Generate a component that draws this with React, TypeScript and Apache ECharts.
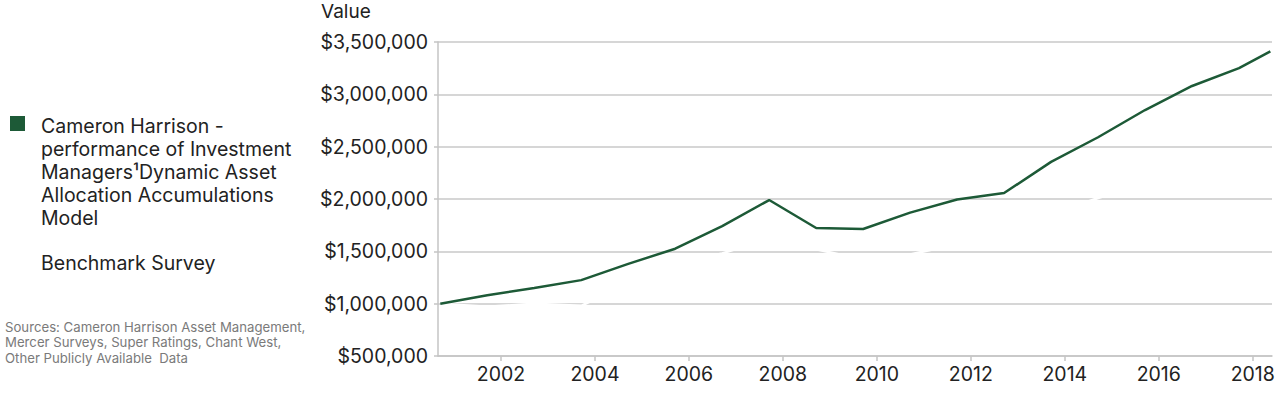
import React, { useEffect, useRef } from "react";
import * as echarts from "echarts";

const periods = [
  "2000-09", "2001-09", "2002-09", "2003-09", "2004-09", "2005-09", "2006-09",
  "2007-09", "2008-09", "2009-09", "2010-09", "2011-09", "2012-09", "2013-09",
  "2014-09", "2015-09", "2016-09", "2017-09", "2018-05",
];

const cameronHarrison = [
  1000000, 1080000, 1150000, 1225000, 1380000, 1525000, 1740000, 1990000,
  1723000, 1713000, 1870000, 1995000, 2057000, 2355000, 2590000, 2850000,
  3080000, 3250000, 3410000,
];

const benchmarkSurvey = [
  1000000, 970000, 1000000, 980000, 1200000, 1380000, 1480000, 1620000,
  1520000, 1420000, 1470000, 1570000, 1700000, 1850000, 2010000, 2150000,
  2250000, 2350000, 2420000,
];

const yearTicks = [2002, 2004, 2006, 2008, 2010, 2012, 2014, 2016, 2018];

const seriesNames = [
  "Cameron Harrison -\nperformance of Investment\nManagers\u00b9Dynamic Asset\nAllocation Accumulations\nModel",
  "Benchmark Survey",
];

const sourcesText =
  "Sources: Cameron Harrison Asset Management,\nMercer Surveys, Super Ratings, Chant West,\nOther Publicly Available  Data";

const GREEN = "#1d5a37";
const FONT = "Inter, Roboto, 'Noto Sans', sans-serif";

function toYear(p: string): number {
  const [y, m] = p.split("-").map(Number);
  return y + (m - 0.5) / 12;
}

export default function App() {
  const ref = useRef<HTMLDivElement>(null);

  useEffect(() => {
    document.body.style.margin = "0";
    if (!ref.current) return;
    const chart = echarts.init(ref.current, null, { renderer: "svg" });

    const chData = periods.map((p, i) => [toYear(p), cameronHarrison[i]]);
    const bmData = periods.map((p, i) => [toYear(p), benchmarkSurvey[i]]);

    chart.setOption({
      animation: false,
      backgroundColor: "#ffffff",
      textStyle: { fontFamily: FONT },
      grid: { left: 438, right: 8, top: 42, bottom: 37, containLabel: false },
      xAxis: {
        type: "value",
        min: 2000.66,
        max: 2018.41,
        splitLine: { show: false },
        axisLine: { show: true, lineStyle: { color: "#c4c4c4", width: 1.5 } },
        axisTick: {
          show: true,
          customValues: yearTicks,
          length: 5,
          lineStyle: { color: "#c4c4c4", width: 1.5 },
        },
        axisLabel: {
          customValues: yearTicks,
          formatter: (v: number) => String(Math.round(v)),
          fontSize: 19.5,
          color: "#222222",
          margin: 8,
          fontFamily: FONT,
        },
      },
      yAxis: {
        type: "value",
        min: 500000,
        max: 3500000,
        interval: 500000,
        axisLine: { show: true, lineStyle: { color: "#c4c4c4", width: 1.5 } },
        axisTick: { show: true, length: 4, lineStyle: { color: "#c4c4c4", width: 1.5 } },
        splitLine: { show: true, lineStyle: { color: "#c8c8c8", width: 1.5 } },
        axisLabel: {
          formatter: (v: number) => "$" + v.toLocaleString("en-US"),
          fontSize: 19.5,
          color: "#222222",
          margin: 10,
          fontFamily: FONT,
        },
      },
      series: [
        {
          name: seriesNames[1],
          type: "line",
          data: bmData,
          showSymbol: false,
          silent: true,
          z: 2,
          lineStyle: { color: "#ffffff", width: 2.5 },
          itemStyle: { color: "#ffffff" },
        },
        {
          name: seriesNames[0],
          type: "line",
          data: chData,
          showSymbol: false,
          silent: true,
          z: 3,
          lineStyle: { color: GREEN, width: 2.5 },
          itemStyle: { color: GREEN },
        },
      ],
      graphic: [
        {
          type: "text",
          left: 321,
          top: 2,
          style: { text: "Value", font: `19px ${FONT}`, fill: "#222222" },
        },
        {
          type: "rect",
          shape: { x: 10, y: 116, width: 15, height: 15 },
          style: { fill: GREEN },
        },
        {
          type: "text",
          x: 41,
          y: 114.5,
          style: {
            text: seriesNames[0],
            font: `19.5px ${FONT}`,
            fill: "#222222",
            lineHeight: 23,
            verticalAlign: "top",
            align: "left",
          },
        },
        {
          type: "rect",
          shape: { x: 10, y: 255, width: 15, height: 15 },
          style: { fill: "#ffffff" },
        },
        {
          type: "text",
          x: 41,
          y: 251.5,
          style: {
            text: seriesNames[1],
            font: `19.5px ${FONT}`,
            fill: "#222222",
            lineHeight: 23,
            verticalAlign: "top",
            align: "left",
          },
        },
        {
          type: "text",
          x: 5,
          y: 319,
          style: {
            text: sourcesText,
            font: `13.2px ${FONT}`,
            fill: "#7a7a7a",
            lineHeight: 15.5,
            verticalAlign: "top",
            align: "left",
          },
        },
      ],
    });

    return () => chart.dispose();
  }, []);

  return <div ref={ref} style={{ width: 1280, height: 393 }} />;
}
